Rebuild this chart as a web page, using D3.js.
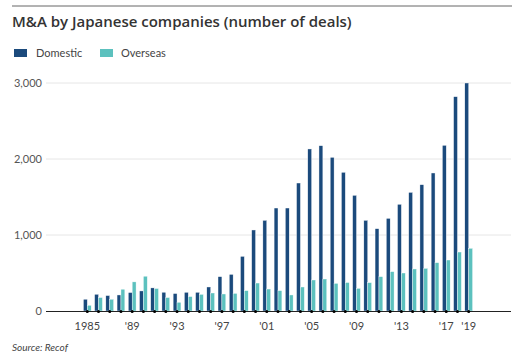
<!DOCTYPE html>
<html><head><meta charset="utf-8">
<script src="https://cdn.jsdelivr.net/npm/d3@7"></script>
<style>body{margin:0;background:#fff}svg{display:block;font-family:Lato,"Open Sans",sans-serif}</style>
</head><body><svg id="c" width="524" height="360"></svg>
<script>
const years = d3.range(1985, 2020);
const domestic = [155,220,203,211,243,264,304,247,230,246,246,316,452,482,719,1066,1193,1355,1355,1684,2132,2175,2022,1825,1522,1193,1083,1219,1404,1561,1662,1816,2180,2820,3000];
const overseas = [75,177,155,287,383,458,296,177,115,190,219,237,224,232,268,368,289,268,211,316,408,421,364,375,298,373,452,518,500,553,561,636,671,776,825];
const yTicks = [0,1000,2000,3000];
const xLabelYears = [1985,1989,1993,1997,2001,2005,2009,2013,2017,2019];
const seriesNames = ["Domestic","Overseas"];
const colors = ["#1b4a7c","#5cc1be"];

const svg = d3.select("#c");
const plotL = 46, plotR = 511;
const x = d3.scaleLinear().domain([1985, 2019]).range([87.3, 468.7]);
const y = d3.scaleLinear().domain([0, 3000]).range([311, 83]);
const bw = 3.9;

svg.append("line").attr("x1",12).attr("x2",512).attr("y1",6).attr("y2",6).attr("stroke","#666").attr("stroke-width",1);
svg.append("text").attr("x",12).attr("y",27).attr("font-family","'Open Sans',sans-serif").attr("font-size",15).attr("font-weight",600).attr("fill","#333").text("M&A by Japanese companies (number of deals)");

// legend
const lg = [{x:14,tx:36},{x:100,tx:121}];
seriesNames.forEach((n,i)=>{
  svg.append("rect").attr("x",lg[i].x).attr("y",49).attr("width",13).attr("height",8).attr("fill",colors[i]);
  svg.append("text").attr("x",lg[i].tx).attr("y",57).attr("font-size",11).attr("fill","#444").text(n);
});

// grid
const yAxis = svg.append("g");
yTicks.forEach(t=>{
  if (t>0) yAxis.append("line").attr("x1",plotL).attr("x2",plotR).attr("y1",y(t)).attr("y2",y(t)).attr("stroke","#e6e6e6").attr("stroke-width",1);
  yAxis.append("text").attr("x",42).attr("y",y(t)+4).attr("text-anchor","end").attr("font-size",11).attr("fill","#555").text(d3.format(",")(t));
});

// bars
const g = svg.append("g");
g.selectAll("rect.d").data(years).enter().append("rect")
  .attr("x",(d)=>x(d)-bw).attr("width",bw)
  .attr("y",(d,i)=>y(domestic[i])).attr("height",(d,i)=>y(0)-y(domestic[i]))
  .attr("fill",colors[0]).attr("stroke","#fff").attr("stroke-width",0.4);
g.selectAll("rect.o").data(years).enter().append("rect")
  .attr("x",(d)=>x(d)).attr("width",bw)
  .attr("y",(d,i)=>y(overseas[i])).attr("height",(d,i)=>y(0)-y(overseas[i]))
  .attr("fill",colors[1]).attr("stroke","#fff").attr("stroke-width",0.4);

// axis line
svg.append("line").attr("x1",plotL).attr("x2",plotR).attr("y1",y(0)+0.5).attr("y2",y(0)+0.5).attr("stroke","#222").attr("stroke-width",1);
svg.selectAll("circle.tick").data(years).enter().append("circle")
  .attr("cx",d=>x(d)).attr("cy",y(0)+0.5).attr("r",1.5).attr("fill","#000");
svg.selectAll("text.xl").data(xLabelYears).enter().append("text")
  .attr("x",d=>x(d)).attr("y",330).attr("text-anchor","middle").attr("font-size",11).attr("fill","#444")
  .text(d=>d===1985?"1985":"'"+String(d).slice(2));

svg.append("text").attr("x",12).attr("y",351).attr("font-size",10).attr("font-style","italic").attr("fill","#444").text("Source: Recof");
</script></body></html>
